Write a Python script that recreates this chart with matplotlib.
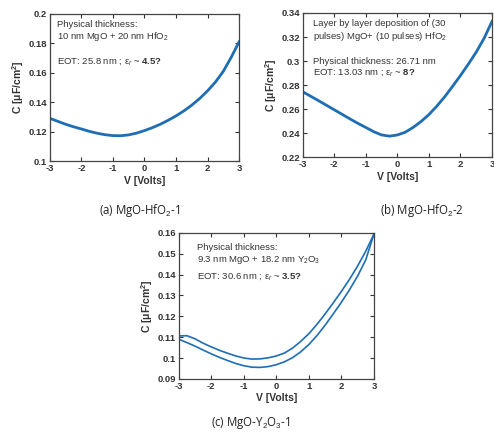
import matplotlib
matplotlib.use('Agg')
import matplotlib.pyplot as plt

plt.rcParams['font.family'] = ['Liberation Sans', 'DejaVu Sans']
plt.rcParams['mathtext.fontset'] = 'custom'
plt.rcParams['mathtext.rm'] = 'Liberation Sans'
plt.rcParams['mathtext.bf'] = 'Liberation Sans:bold'
plt.rcParams['mathtext.it'] = 'Liberation Sans:italic'

# data (C in uF/cm2 vs V)
volts = [-3, -2.75, -2.5, -2.25, -2, -1.75, -1.5, -1.25, -1, -0.75, -0.5, -0.25, 0,
         0.25, 0.5, 0.75, 1, 1.25, 1.5, 1.75, 2, 2.25, 2.5, 2.75, 3]
cap_a = [0.129, 0.127, 0.125, 0.1233, 0.1218, 0.1202, 0.1189, 0.1179, 0.1173, 0.1172, 0.1178, 0.119, 0.1207,
         0.1227, 0.125, 0.1277, 0.1307, 0.1341, 0.138, 0.1425, 0.1477, 0.1537, 0.161, 0.1705, 0.181]
cap_b = [0.2744, 0.2707, 0.267, 0.2632, 0.2594, 0.2556, 0.2518, 0.2481, 0.2447, 0.2412, 0.2385, 0.2375, 0.2385,
         0.2408, 0.2448, 0.2497, 0.2555, 0.2625, 0.2703, 0.279, 0.288, 0.2975, 0.3075, 0.319, 0.333]
# MgO-Y2O3: two sweeps
cap_c_up = [0.1106, 0.1107, 0.1092, 0.1071, 0.1053, 0.1037, 0.1023, 0.101, 0.1, 0.0995, 0.0996, 0.1001, 0.101,
            0.1024, 0.1048, 0.108, 0.1117, 0.1162, 0.1212, 0.1265, 0.132, 0.1378, 0.1442, 0.1513, 0.1595]
cap_c_dn = [0.109, 0.1074, 0.1057, 0.1038, 0.102, 0.1003, 0.0988, 0.0974, 0.0963, 0.0956, 0.0955, 0.0959, 0.0968,
            0.0982, 0.1002, 0.103, 0.1065, 0.1108, 0.1158, 0.1212, 0.1268, 0.1328, 0.1394, 0.1472, 0.1595]

xticks = [-3, -2, -1, 0, 1, 2, 3]
yticks_a = [0.1, 0.12, 0.14, 0.16, 0.18, 0.2]
yticks_b = [0.22, 0.24, 0.26, 0.28, 0.3, 0.32, 0.34]
yticks_c = [0.09, 0.1, 0.11, 0.12, 0.13, 0.14, 0.15, 0.16]

line_col = '#1f6db3'
txt_col = '#333333'


def style_axes(ax, yticks, ylabels):
    ax.set_xlim(-3, 3)
    ax.set_ylim(yticks[0], yticks[-1])
    ax.set_xticks(xticks)
    ax.set_xticklabels([str(t) for t in xticks])
    ax.set_yticks(yticks)
    ax.set_yticklabels(ylabels)
    ax.tick_params(direction='in', top=True, right=True, length=3, width=0.8,
                   labelsize=6.8, colors=txt_col, pad=2)
    for lab in ax.get_xticklabels() + ax.get_yticklabels():
        lab.set_fontweight('bold')
    for s in ax.spines.values():
        s.set_linewidth(0.9)
        s.set_color('#444444')
    ax.set_xlabel('V [Volts]', fontsize=7.5, fontweight='bold', color=txt_col, labelpad=2)
    ax.set_ylabel('C [μF/cm$^\\mathbf{2}$]', fontsize=7.5, fontweight='bold', color=txt_col, labelpad=2)


fig = plt.figure(figsize=(4.94, 4.33), dpi=100)
fs = 6.8

# (a)
ax1 = fig.add_axes([0.101, 0.628, 0.383, 0.340])
ax1.plot(volts, cap_a, color=line_col, linewidth=2)
style_axes(ax1, yticks_a, ['0.1', '0.12', '0.14', '0.16', '0.18', '0.2'])
ax1.text(0.04, 0.925, 'Physical thickness:', transform=ax1.transAxes, fontsize=fs, color=txt_col, va='center')
ax1.text(0.04, 0.843, '10 nm MgO + 20 nm HfO$_2$', transform=ax1.transAxes, fontsize=fs, color=txt_col, va='center')
ax1.text(0.04, 0.673, 'EOT: 25.8 nm ; ε$_r$ ~ $\\mathbf{4.5?}$', transform=ax1.transAxes, fontsize=fs, color=txt_col, va='center')

# (b)
ax2 = fig.add_axes([0.613, 0.637, 0.383, 0.333])
ax2.plot(volts, cap_b, color=line_col, linewidth=2)
style_axes(ax2, yticks_b, ['0.22', '0.24', '0.26', '0.28', '0.3', '0.32', '0.34'])
ax2.text(0.053, 0.93, 'Layer by layer deposition of (30', transform=ax2.transAxes, fontsize=fs, color=txt_col, va='center')
ax2.text(0.053, 0.84, 'pulses) MgO+ (10 pulses) HfO$_2$', transform=ax2.transAxes, fontsize=fs, color=txt_col, va='center')
ax2.text(0.053, 0.665, 'Physical thickness: 26.71 nm', transform=ax2.transAxes, fontsize=fs, color=txt_col, va='center')
ax2.text(0.053, 0.59, 'EOT: 13.03 nm ; ε$_r$ ~ $\\mathbf{8?}$', transform=ax2.transAxes, fontsize=fs, color=txt_col, va='center')

# (c)
ax3 = fig.add_axes([0.362, 0.125, 0.395, 0.337])
ax3.plot(volts, cap_c_up, color=line_col, linewidth=1.2)
ax3.plot(volts, cap_c_dn, color=line_col, linewidth=1.2)
style_axes(ax3, yticks_c, ['0.09', '0.1', '0.11', '0.12', '0.13', '0.14', '0.15', '0.16'])
ax3.text(0.092, 0.897, 'Physical thickness:', transform=ax3.transAxes, fontsize=fs, color=txt_col, va='center')
ax3.text(0.092, 0.815, '9.3 nm MgO + 18.2 nm Y$_2$O$_3$', transform=ax3.transAxes, fontsize=fs, color=txt_col, va='center')
ax3.text(0.092, 0.705, 'EOT: 30.6 nm ; ε$_r$ ~ $\\mathbf{3.5?}$', transform=ax3.transAxes, fontsize=fs, color=txt_col, va='center')

# captions
cap_kw = dict(fontsize=8.3, color='#222222', ha='center', va='center', family=['Open Sans', 'DejaVu Sans'])
fig.text(0.283, 0.515, '(a) MgO-HfO$_2$-1', **cap_kw)
fig.text(0.854, 0.515, '(b) MgO-HfO$_2$-2', **cap_kw)
fig.text(0.508, 0.023, '(c) MgO-Y$_2$O$_3$-1', **cap_kw)

fig.savefig('out.png', dpi=100)
